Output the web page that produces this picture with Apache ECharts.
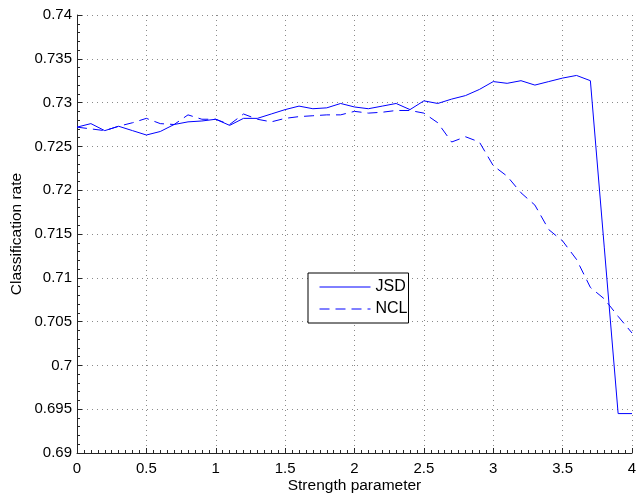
<!DOCTYPE html>
<html>
<head>
<meta charset="utf-8">
<script src="https://cdn.jsdelivr.net/npm/echarts@6/dist/echarts.min.js"></script>
<style>
  * { margin: 0; padding: 0; }
  body { background: #fff; }
</style>
</head>
<body>
<div id="main" style="width: 641px; height: 494px;"></div>
<script>
  // strength parameter values (x)
  var strength = [0, 0.1, 0.2, 0.3, 0.4, 0.5, 0.6, 0.7, 0.8, 0.9,
    1.0, 1.1, 1.2, 1.3, 1.4, 1.5, 1.6, 1.7, 1.8, 1.9,
    2.0, 2.1, 2.2, 2.3, 2.4, 2.5, 2.6, 2.7, 2.8, 2.9,
    3.0, 3.1, 3.2, 3.3, 3.4, 3.5, 3.6, 3.7, 3.8, 3.9, 4.0];

  // classification rate
  var jsd = [0.7272, 0.7276, 0.7268, 0.7273, 0.7268, 0.7263, 0.7267, 0.7275, 0.7278, 0.7279,
    0.7281, 0.7274, 0.7282, 0.7282, 0.7287, 0.7292, 0.7296, 0.7293, 0.7294, 0.7299,
    0.7295, 0.7293, 0.7296, 0.7299, 0.7292, 0.7302, 0.7299, 0.7304, 0.7308, 0.7315,
    0.7324, 0.7322, 0.7325, 0.7320, 0.7324, 0.7328, 0.7331, 0.7325, 0.7135, 0.6945, 0.6945];

  var ncl = [0.7272, 0.7270, 0.7268, 0.7273, 0.7277, 0.7282, 0.7276, 0.7275, 0.7286, 0.7281,
    0.7281, 0.7275, 0.7287, 0.7281, 0.7278, 0.7282, 0.7284, 0.7285, 0.7286, 0.7286,
    0.7290, 0.7288, 0.7289, 0.7291, 0.7291, 0.7288, 0.7277, 0.7255, 0.7261, 0.7255,
    0.7228, 0.7216, 0.7197, 0.7183, 0.7155, 0.7142, 0.7121, 0.7089, 0.7076, 0.7056, 0.7037];

  var seriesNames = ['JSD', 'NCL'];

  function pairs(ys) {
    return strength.map(function (x, i) { return [x, ys[i]]; });
  }

  var font = 'Liberation Sans, Arial, Helvetica, sans-serif';
  var axisColor = '#262626';
  var gridLine = { show: true, lineStyle: { color: '#8a8a8a', type: [1, 4], width: 1 } };

  var chart = echarts.init(document.getElementById('main'));
  chart.setOption({
    animation: false,
    textStyle: { fontFamily: font },
    grid: { left: 77, right: 9, top: 15, bottom: 41, containLabel: false, outerBoundsMode: 'none' },
    legend: {
      data: seriesNames,
      orient: 'vertical',
      left: 308,
      top: 273,
      itemWidth: 51,
      itemHeight: 14,
      itemGap: 6,
      padding: [6, 1, 6, 11],
      backgroundColor: '#fff',
      borderColor: '#000',
      borderWidth: 1,
      borderRadius: 0,
      itemStyle: { opacity: 0 },
      lineStyle: { width: 1 },
      textStyle: { fontFamily: font, fontSize: 16, color: '#000' }
    },
    xAxis: {
      type: 'value',
      min: 0,
      max: 4,
      interval: 0.5,
      name: 'Strength parameter',
      nameLocation: 'middle',
      nameGap: 25,
      nameMoveOverlap: false,
      nameTextStyle: { fontSize: 15.5, color: '#000' },
      axisLine: { lineStyle: { color: axisColor } },
      axisTick: { inside: true, length: 5, lineStyle: { color: axisColor } },
      minorTick: { show: true, splitNumber: 10, length: 3, lineStyle: { color: axisColor } },
      axisLabel: { fontSize: 15, color: '#000', margin: 8 },
      splitLine: gridLine
    },
    yAxis: {
      type: 'value',
      min: 0.69,
      max: 0.74,
      interval: 0.005,
      name: 'Classification rate',
      nameLocation: 'middle',
      nameGap: 52,
      nameMoveOverlap: false,
      nameTextStyle: { fontSize: 15.5, color: '#000' },
      axisLine: { show: true, lineStyle: { color: axisColor } },
      axisTick: { show: true, inside: true, length: 5, lineStyle: { color: axisColor } },
      minorTick: { show: true, splitNumber: 5, length: 3, lineStyle: { color: axisColor } },
      axisLabel: {
        fontSize: 15, color: '#000', margin: 5,
        formatter: function (v) { return String(parseFloat(v.toFixed(3))); }
      },
      splitLine: gridLine
    },
    series: [
      {
        name: seriesNames[0],
        type: 'line',
        symbol: 'none',
        data: pairs(jsd),
        lineStyle: { color: '#0000ff', width: 1 },
        itemStyle: { color: '#0000ff' }
      },
      {
        name: seriesNames[1],
        type: 'line',
        symbol: 'none',
        data: pairs(ncl),
        lineStyle: { color: '#0000ff', width: 1, type: [10, 6] },
        itemStyle: { color: '#0000ff' }
      }
    ]
  });
</script>
</body>
</html>
